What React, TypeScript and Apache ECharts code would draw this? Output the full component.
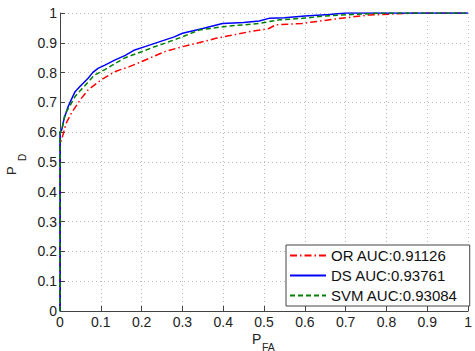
import React, { useEffect, useRef } from "react";
import * as echarts from "echarts";

const seriesNames = ["OR AUC:0.91126", "DS AUC:0.93761", "SVM AUC:0.93084"];

const orFpr = [0, 0, 0.005, 0.015, 0.028, 0.05, 0.069, 0.1, 0.134, 0.17, 0.2, 0.256, 0.3, 0.34, 0.382, 0.42, 0.463, 0.512, 0.528, 0.593, 0.675, 0.756, 0.854, 0.87, 1];
const orTpr = [0, 0.56, 0.58, 0.63, 0.664, 0.71, 0.742, 0.775, 0.803, 0.82, 0.837, 0.87, 0.887, 0.9, 0.915, 0.925, 0.937, 0.948, 0.96, 0.965, 0.98, 0.993, 0.999, 1, 1];

const dsFpr = [0, 0, 0.004, 0.01, 0.02, 0.028, 0.037, 0.05, 0.069, 0.08, 0.093, 0.11, 0.134, 0.16, 0.183, 0.21, 0.232, 0.256, 0.28, 0.3, 0.35, 0.398, 0.45, 0.488, 0.512, 0.55, 0.6, 0.66, 0.7, 1];
const dsTpr = [0, 0.6, 0.607, 0.645, 0.686, 0.71, 0.736, 0.755, 0.781, 0.8, 0.814, 0.825, 0.842, 0.858, 0.876, 0.888, 0.898, 0.909, 0.92, 0.932, 0.948, 0.965, 0.968, 0.973, 0.982, 0.984, 0.99, 0.995, 1, 1];

const svmFpr = [0, 0, 0.005, 0.012, 0.025, 0.037, 0.05, 0.07, 0.085, 0.11, 0.134, 0.16, 0.2, 0.232, 0.256, 0.3, 0.341, 0.406, 0.488, 0.537, 0.593, 0.65, 0.715, 0.8, 1];
const svmTpr = [0, 0.6, 0.61, 0.66, 0.69, 0.72, 0.74, 0.77, 0.792, 0.81, 0.83, 0.85, 0.87, 0.887, 0.898, 0.92, 0.943, 0.955, 0.965, 0.977, 0.982, 0.99, 0.995, 1, 1];

const seriesColors = ["#ff0000", "#0000ff", "#008000"];

const zip = (xs: number[], ys: number[]) => xs.map((x, i) => [x, ys[i]]);

export default function App() {
  const ref = useRef<HTMLDivElement>(null);
  useEffect(() => {
    if (!ref.current) return;
    const chart = echarts.init(ref.current, null, { renderer: "svg" });
    const font = "Liberation Sans, Arial, sans-serif";
    const axisCommon = {
      type: "value" as const,
      min: 0,
      max: 1,
      interval: 0.1,
      axisLine: { show: true, lineStyle: { color: "#444", width: 1 } },
      axisTick: { show: true, inside: true, length: 5, lineStyle: { color: "#444" } },
      splitLine: { show: true, lineStyle: { color: "#bbb", type: [1, 3] as any, width: 1 } },
      axisLabel: {
        color: "#222",
        fontSize: 14,
        fontFamily: font,
        formatter: (v: number) => String(Math.round(v * 10) / 10),
      },
    };
    const lineTypes: any[] = [[7, 3, 1.5, 3], "solid", [5, 3]];
    const datas = [zip(orFpr, orTpr), zip(dsFpr, dsTpr), zip(svmFpr, svmTpr)];
    chart.setOption({
      animation: false,
      backgroundColor: "#fff",
      grid: { left: 60, right: 5, top: 13, bottom: 40 },
      xAxis: { ...axisCommon, axisLabel: { ...axisCommon.axisLabel, margin: 4 } },
      yAxis: { ...axisCommon, axisLabel: { ...axisCommon.axisLabel, margin: 3 } },
      legend: {
        orient: "vertical",
        left: 286,
        top: 245,
        itemWidth: 36,
        itemHeight: 14,
        itemGap: 5,
        padding: [3, 12, 3, 3],
        backgroundColor: "#fff",
        borderColor: "#444",
        borderWidth: 1,
        borderRadius: 0,
        itemStyle: { opacity: 0 },
        textStyle: { fontSize: 15, fontFamily: font, color: "#111" },
        data: seriesNames,
      },
      series: seriesNames.map((name, i) => ({
        name,
        type: "line",
        data: datas[i],
        symbol: "none",
        showSymbol: false,
        color: seriesColors[i],
        lineStyle: { color: seriesColors[i], width: 1.5, type: lineTypes[i] },
        z: 2 + i,
      })),
      graphic: [
        {
          type: "text",
          left: 252,
          top: 332,
          style: { text: "P", fontSize: 14, fontFamily: font, fill: "#222" },
        },
        {
          type: "text",
          left: 262,
          top: 341,
          style: { text: "FA", fontSize: 10.5, fontFamily: font, fill: "#222" },
        },
        {
          type: "text",
          x: 5,
          y: 175,
          rotation: Math.PI / 2,
          style: { text: "P", fontSize: 13, fontFamily: font, fill: "#222" },
        },
        {
          type: "text",
          x: 17,
          y: 161,
          rotation: Math.PI / 2,
          style: { text: "D", fontSize: 10, fontFamily: font, fill: "#222" },
        },
      ],
    });
    return () => chart.dispose();
  }, []);
  return <div ref={ref} style={{ width: 475, height: 351, position: "absolute", left: 0, top: 0 }} />;
}
